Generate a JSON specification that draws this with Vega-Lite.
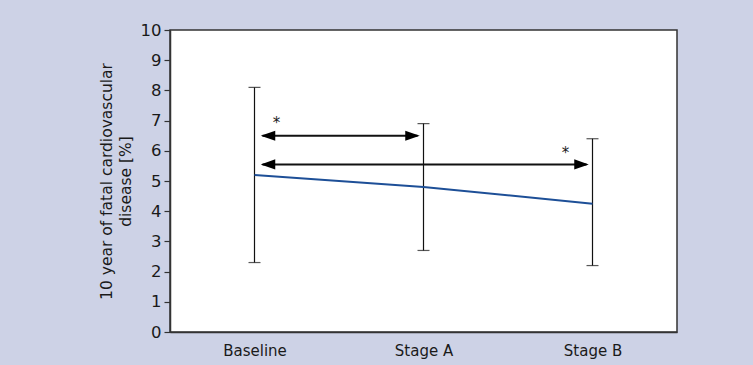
{
  "$schema": "https://vega.github.io/schema/vega-lite/v6.json",
  "width": 507,
  "height": 302,
  "autosize": {"type": "none"},
  "padding": {"left": 170, "top": 30, "right": 76, "bottom": 33},
  "background": "#cdd2e6",
  "config": {
    "font": "DejaVu Sans",
    "view": {"fill": "white", "stroke": "#333333", "strokeWidth": 1.5},
    "axisY": {
      "titleFontSize": 15.5,
      "titleFontWeight": "normal",
      "titleColor": "#1a1a1a",
      "titleLineHeight": 19,
      "titleAngle": -90,
      "titleAlign": "center",
      "titleBaseline": "alphabetic",
      "titleX": -59,
      "titleY": 151,
      "tickCount": 11,
      "labelOverlap": false,
      "grid": false,
      "tickSize": 6,
      "tickColor": "#333333",
      "tickWidth": 1.2,
      "labelPadding": 3,
      "labelFontSize": 16.5,
      "labelColor": "#1a1a1a",
      "domainColor": "#333333",
      "domainWidth": 1.5
    },
    "axisX": {
      "labelAngle": 0,
      "ticks": false,
      "labelPadding": 11,
      "labelFontSize": 15,
      "labelColor": "#1a1a1a",
      "domainColor": "#333333",
      "domainWidth": 1.5,
      "grid": false
    }
  },
  "datasets": {
    "stats": [
      {"stage": "Baseline", "mean": 5.2, "lo": 2.3, "hi": 8.1},
      {"stage": "Stage A", "mean": 4.8, "lo": 2.7, "hi": 6.9},
      {"stage": "Stage B", "mean": 4.25, "lo": 2.2, "hi": 6.4}
    ],
    "arrows": [
      {"from": "Baseline", "to": "Stage A", "y": 6.5, "star": 7.0},
      {"from": "Baseline", "to": "Stage B", "y": 5.55, "star": 6.0}
    ]
  },
  "encoding": {
    "x": {
      "field": "stage",
      "type": "nominal",
      "scale": {"type": "point", "padding": 0.5, "domain": ["Baseline", "Stage A", "Stage B"]},
      "axis": {"title": null}
    }
  },
  "layer": [
    {
      "data": {"name": "stats"},
      "mark": {"type": "rule", "color": "#111111", "strokeWidth": 1.2},
      "encoding": {
        "y": {
          "field": "lo",
          "type": "quantitative",
          "scale": {"domain": [0, 10], "nice": false},
          "axis": {
            "title": ["10 year of fatal cardiovascular", "disease [%]"],
            "values": [0, 1, 2, 3, 4, 5, 6, 7, 8, 9, 10],
            "tickCount": 11
          }
        },
        "y2": {"field": "hi"}
      }
    },
    {
      "data": {"name": "stats"},
      "mark": {"type": "tick", "color": "#111111", "size": 12, "thickness": 1.2, "orient": "horizontal"},
      "encoding": {"y": {"field": "lo", "type": "quantitative"}}
    },
    {
      "data": {"name": "stats"},
      "mark": {"type": "tick", "color": "#111111", "size": 12, "thickness": 1.2, "orient": "horizontal"},
      "encoding": {"y": {"field": "hi", "type": "quantitative"}}
    },
    {
      "data": {"name": "stats"},
      "mark": {"type": "line", "color": "#1d4f97", "strokeWidth": 2},
      "encoding": {"y": {"field": "mean", "type": "quantitative"}}
    },
    {
      "data": {"name": "arrows"},
      "mark": {"type": "rule", "color": "#111111", "strokeWidth": 2, "xOffset": 8, "x2Offset": -6},
      "encoding": {
        "x": {"field": "from", "type": "nominal"},
        "x2": {"field": "to"},
        "y": {"field": "y", "type": "quantitative"}
      }
    },
    {
      "data": {"name": "arrows"},
      "mark": {"type": "point", "shape": "M -1 0 L 1 -0.7 L 1 0.7 Z", "size": 210, "filled": true, "color": "#000000", "opacity": 1, "xOffset": 13.5},
      "encoding": {
        "x": {"field": "from", "type": "nominal"},
        "y": {"field": "y", "type": "quantitative"}
      }
    },
    {
      "data": {"name": "arrows"},
      "mark": {"type": "point", "shape": "M 1 0 L -1 -0.7 L -1 0.7 Z", "size": 210, "filled": true, "color": "#000000", "opacity": 1, "xOffset": -11},
      "encoding": {
        "x": {"field": "to", "type": "nominal"},
        "y": {"field": "y", "type": "quantitative"}
      }
    },
    {
      "data": {"name": "arrows"},
      "transform": [{"filter": "datum.to === 'Stage A'"}],
      "mark": {"type": "text", "text": "*", "fontSize": 15, "color": "#1a1a1a", "baseline": "middle", "dx": 22, "dy": 2},
      "encoding": {
        "x": {"field": "from", "type": "nominal"},
        "y": {"field": "star", "type": "quantitative"}
      }
    },
    {
      "data": {"name": "arrows"},
      "transform": [{"filter": "datum.to === 'Stage B'"}],
      "mark": {"type": "text", "text": "*", "fontSize": 15, "color": "#1a1a1a", "baseline": "middle", "dx": -27, "dy": 2},
      "encoding": {
        "x": {"field": "to", "type": "nominal"},
        "y": {"field": "star", "type": "quantitative"}
      }
    }
  ]
}
